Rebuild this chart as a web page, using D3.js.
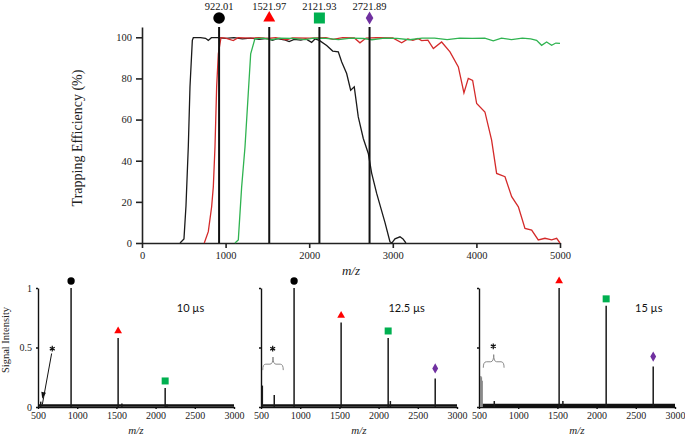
<!DOCTYPE html>
<html>
<head>
<meta charset="utf-8">
<script src="https://cdn.jsdelivr.net/npm/d3@7"></script>
<style>
  body { margin: 0; background: #fff; }
  svg { display: block; }
</style>
</head>
<body>
<svg id="chart" width="685" height="435"></svg>
<script>
// ---- data ----
const refMasses = [922.01, 1521.97, 2121.93, 2721.89];
const refLabels = ['922.01', '1521.97', '2121.93', '2721.89'];
const refColors = ['#000000', '#ff0000', '#00b050', '#7030a0'];

const topTicksX = [0, 1000, 2000, 3000, 4000, 5000];
const topTicksY = [0, 20, 40, 60, 80, 100];

// trapping efficiency curves: [m/z, %]
const blackCurve = [[455,0],[502,2],[526,18],[554,47],[574,76],[602,98.5],[614,99.8],[700,99.8],[760,99.5],
  [793,98.5],[830,99.8],[900,99.8],[1000,99.5],[1100,99.8],[1200,99.2],[1300,99.6],[1400,99.0],[1500,99.5],
  [1560,98.5],[1620,99.3],[1700,98.8],[1760,97.9],[1820,99.0],[1900,98.6],[1960,99.2],[2029,97.5],[2069,99.2],
  [2121,98.5],[2209,96],[2281,93.3],[2348,92.9],[2389,88],[2448,82.4],[2496,74.3],[2539,75.9],[2587,61.3],
  [2647,50.8],[2707,43.5],[2747,34],[2807,24.1],[2847,18.4],[2906,10],[2966,0.6],[2990,0],[3026,2],[3086,3],
  [3122,2],[3157,0]];
const redCurve = [[745,0],[793,5.5],[833,17.6],[853,27.3],[873,46.7],[893,75.9],[913,92],[945,99.8],[1000,99.6],
  [1092,98.4],[1150,99.8],[1300,99.6],[1400,99.8],[1500,99.4],[1600,99.8],[1730,98.8],[1800,99.7],[2000,99.6],
  [2200,99.8],[2285,99.0],[2400,99.8],[2540,99.7],[2607,97.3],[2680,99.6],[2800,99.8],[3000,99.7],[3106,97.3],
  [3180,99.2],[3240,98.5],[3300,99.4],[3345,98.4],[3420,98.6],[3485,94.5],[3584,97.7],[3684,92.9],[3784,85.6],
  [3851,73],[3903,80],[3955,79],[4003,67.8],[4102,63.7],[4182,50],[4242,33.8],[4342,32.2],[4422,22.5],
  [4502,17.6],[4581,7.1],[4661,6.3],[4740,1.5],[4820,2.3],[4900,1.5],[4960,2.3],[5000,0]];
const greenCurve = [[1112,0],[1152,1.5],[1192,27.3],[1232,46.7],[1271,72.7],[1300,92],[1351,99.4],[1450,99.6],
  [1550,98.8],[1650,99.6],[1800,99.5],[1950,98.9],[2050,99.6],[2200,99.5],[2350,98.9],[2500,99.6],[2650,99.4],
  [2750,98.8],[2900,99.6],[3050,99.5],[3200,98.8],[3350,99.6],[3500,99.6],[3650,98.9],[3800,99.6],[3950,99.5],
  [4100,99.6],[4202,98.3],[4300,99.6],[4420,98.9],[4550,99.6],[4650,99.2],[4720,98.5],[4780,96.1],[4840,97.7],
  [4900,96.1],[4950,97.2],[5000,97]];

// mass spectra: [m/z, relative intensity, marker index (-1 none)]
const panelTimes = ['10 µs', '12.5 µs', '15 µs'];
const panelTimeAt = [2270, 2125, 2490];
const panelTicksX = [500, 1000, 1500, 2000, 2500, 3000];
const panelTicksY = [0, 0.5, 1];
const spectrum10 = [[535,0.045,-1],[922,1.0,0],[1522,0.58,1],[1570,0.03,-1],[2122,0.16,2],[2145,0.02,-1]];
const spectrum12 = [[517,0.18,-1],[669,0.1,-1],[922,1.0,0],[1522,0.71,1],[2122,0.58,2],[2150,0.05,-1],[2722,0.24,3]];
const spectrum15 = [[522,0.26,-1],[530,0.25,-1],[540,0.22,-1],[695,0.05,-1],[1522,1.0,1],[1570,0.05,-1],
  [2122,0.85,2],[2722,0.34,3]];
const spectra = [spectrum10, spectrum12, spectrum15];
// "*" annotation: [star m/z, star value]
const starPos = [[682, 0.49], [649, 0.49], [682, 0.51]];

// ---- drawing ----
const svg = d3.select('#chart');
const serif = '"Liberation Serif", "Times New Roman", serif';

const symbolTypes = [d3.symbolCircle, d3.symbolTriangle, d3.symbolSquare, d3.symbolDiamond];
const bigSizes = [106, 62, 121, 50];
const smallSizes = [42, 26, 49, 30];

// top chart
const x = d3.scaleLinear().domain([0, 5000]).range([142, 560]);
const y = d3.scaleLinear().domain([0, 105]).range([243, 27]);

let xAxis = svg.append('g')
    .attr('transform', `translate(0,${y(0)})`)
    .call(d3.axisBottom(x).tickValues(topTicksX).tickFormat(d3.format('d')).tickSize(5).tickSizeOuter(0).tickPadding(4));
let yAxis = svg.append('g')
    .attr('transform', `translate(${x(0)},0)`)
    .call(d3.axisLeft(y).tickValues(topTicksY).tickSize(6).tickSizeOuter(0).tickPadding(4));
[xAxis, yAxis].forEach(a => {
    a.selectAll('path, line').attr('stroke', '#222').attr('stroke-width', 1.6);
    a.selectAll('text').attr('font-family', serif).attr('font-size', 10.5).attr('fill', '#222');
});

let line = d3.line().x(d => x(d[0])).y(d => y(d[1]));
[[blackCurve, '#1a1a1a'], [redCurve, '#d42a2a'], [greenCurve, '#2fb350']].forEach(([data, color]) => {
    svg.append('path')
        .datum(data)
        .attr('fill', 'none')
        .attr('stroke', color)
        .attr('stroke-width', 1.3)
        .attr('d', line);
});

svg.append('g').selectAll('line')
    .data(refMasses)
    .enter()
    .append('line')
        .attr('x1', d => x(d)).attr('x2', d => x(d))
        .attr('y1', y(105)).attr('y2', y(0))
        .attr('stroke', '#111')
        .attr('stroke-width', 2);

svg.append('g').selectAll('path')
    .data(refMasses)
    .enter()
    .append('path')
        .attr('transform', d => `translate(${x(d)},18)`)
        .attr('d', (d, i) => d3.symbol(symbolTypes[i], bigSizes[i])())
        .attr('fill', (d, i) => refColors[i]);

svg.append('g').selectAll('text')
    .data(refMasses)
    .enter()
    .append('text')
        .attr('x', d => x(d))
        .attr('y', 9.5)
        .attr('text-anchor', 'middle')
        .attr('font-family', serif)
        .attr('font-size', 10.5)
        .attr('fill', '#111')
        .text((d, i) => refLabels[i]);

svg.append('text')
    .attr('transform', 'translate(82,138) rotate(-90)')
    .attr('text-anchor', 'middle')
    .attr('font-family', serif)
    .attr('font-size', 14)
    .attr('fill', '#222')
    .text('Trapping Efficiency (%)');

svg.append('text')
    .attr('x', x(2500)).attr('y', 275)
    .attr('text-anchor', 'middle')
    .attr('font-family', serif)
    .attr('font-style', 'italic')
    .attr('font-size', 13)
    .attr('fill', '#222')
    .text('m/z');

// bottom spectra
const panelLeft = [38, 261, 479];
const py = d3.scaleLinear().domain([0, 1]).range([407, 288]);

spectra.forEach((peaks, p) => {
    let px = d3.scaleLinear().domain([500, 3000]).range([panelLeft[p], panelLeft[p] + 196]);
    let g = svg.append('g');

    // baseline noise band
    g.append('line')
        .attr('x1', px(500)).attr('x2', px(3000))
        .attr('y1', py(0.012)).attr('y2', py(0.012))
        .attr('stroke', '#111')
        .attr('stroke-width', p == 2 ? 3.5 : 2.5);

    let ax = g.append('g')
        .attr('transform', `translate(0,${py(0)})`)
        .call(d3.axisBottom(px).tickValues(panelTicksX).tickFormat(d3.format('d')).tickSize(2).tickSizeOuter(0).tickPadding(3));
    let ay = g.append('g')
        .attr('transform', `translate(${px(500)},0)`)
        .call(d3.axisLeft(py).tickValues(panelTicksY).tickFormat(d => d).tickSize(2).tickSizeOuter(0).tickPadding(4));
    if (p > 0) ay.selectAll('text').remove();
    [ax, ay].forEach(a => {
        a.selectAll('path, line').attr('stroke', '#111').attr('stroke-width', 1.4);
        a.selectAll('text').attr('font-family', serif).attr('font-size', 10).attr('fill', '#222');
    });

    g.append('g').selectAll('line')
        .data(peaks)
        .enter()
        .append('line')
            .attr('x1', d => px(d[0])).attr('x2', d => px(d[0]))
            .attr('y1', py(0)).attr('y2', d => py(d[1]))
            .attr('stroke', d => (p == 2 && d[0] < 600) ? '#8a8a8a' : '#1a1a1a')
            .attr('stroke-width', 1.5);

    g.append('g').selectAll('path')
        .data(peaks.filter(d => d[2] >= 0))
        .enter()
        .append('path')
            .attr('transform', d => `translate(${px(d[0])},${py(d[1]) - (d[2] == 3 ? 10 : 7)})`)
            .attr('d', d => d3.symbol(symbolTypes[d[2]], smallSizes[d[2]])())
            .attr('fill', d => refColors[d[2]]);

    g.append('text')
        .attr('x', px(panelTimeAt[p])).attr('y', 312)
        .attr('font-family', 'Lato, "Open Sans", sans-serif')
        .attr('font-size', 11)
        .attr('fill', '#111')
        .text(panelTimes[p]);

    g.append('text')
        .attr('x', px(1750)).attr('y', 434)
        .attr('text-anchor', 'middle')
        .attr('font-family', serif)
        .attr('font-style', 'italic')
        .attr('font-size', 11)
        .attr('fill', '#222')
        .text('m/z');

    // "*" annotation
    let [sx, sv] = starPos[p];
    g.append('path')
        .attr('transform', `translate(${px(sx)},${py(sv)})`)
        .attr('d', d3.symbol(d3.symbolAsterisk, 22)())
        .attr('fill', 'none')
        .attr('stroke', '#111')
        .attr('stroke-width', 1.2);
    if (p == 0) {
        let x1 = px(674), y1 = py(0.45), x2 = px(555), y2 = py(0.07);
        g.append('line')
            .attr('x1', x1).attr('y1', y1).attr('x2', x2).attr('y2', y2 + 6)
            .attr('stroke', '#111').attr('stroke-width', 1);
        let ang = Math.atan2(y2 - y1, x2 - x1);
        let a1 = ang + Math.PI - 0.35, a2 = ang + Math.PI + 0.35;
        g.append('path')
            .attr('d', `M${x2},${y2}L${x2 + 7 * Math.cos(a1)},${y2 + 7 * Math.sin(a1)}L${x2 + 7 * Math.cos(a2)},${y2 + 7 * Math.sin(a2)}Z`)
            .attr('fill', '#111');
    } else {
        let bl = p == 1 ? 522 : 555, br = p == 1 ? 784 : 820;
        let top = py(sv - 0.13), leg = py(sv - 0.18), tip = py(sv - 0.07);
        let l = px(bl), r = px(br), m = (l + r) / 2;
        g.append('path')
            .attr('d', `M${l},${leg}Q${l},${top} ${l + 3},${top}L${m - 3},${top}Q${m},${top} ${m},${tip}` +
                       `Q${m},${top} ${m + 3},${top}L${r - 3},${top}Q${r},${top} ${r},${leg}`)
            .attr('fill', 'none')
            .attr('stroke', '#8a8a8a')
            .attr('stroke-width', 1);
    }
});

svg.append('text')
    .attr('transform', 'translate(9,340) rotate(-90)')
    .attr('text-anchor', 'middle')
    .attr('font-family', serif)
    .attr('font-size', 10.5)
    .attr('fill', '#222')
    .text('Signal Intensity');
</script>
</body>
</html>
